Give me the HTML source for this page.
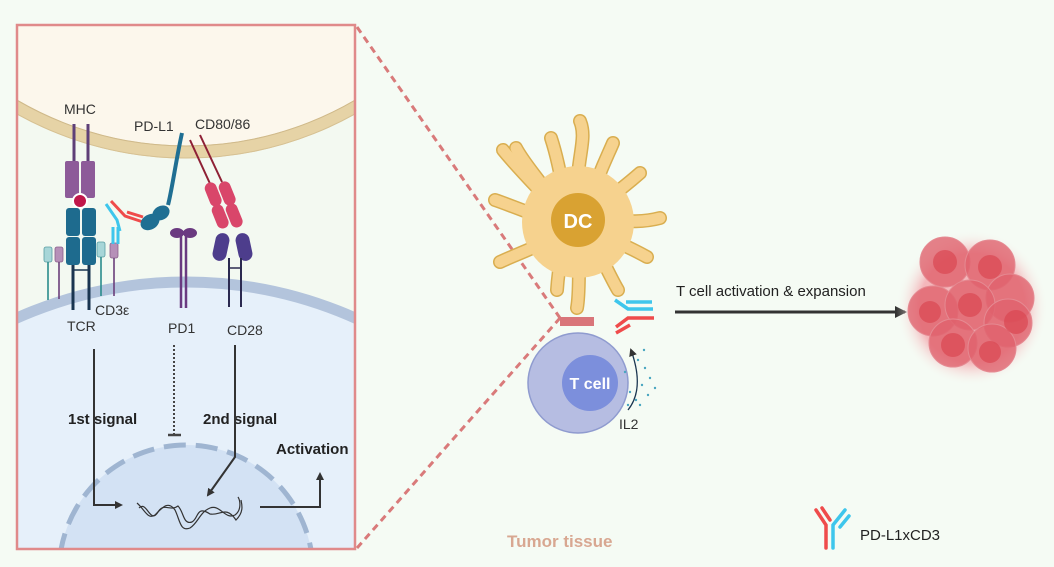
<!DOCTYPE html>
<html><head><meta charset="utf-8"><style>
html,body{margin:0;padding:0;background:#f5fbf4;width:1054px;height:567px;overflow:hidden;}
svg{display:block;font-family:"Liberation Sans",sans-serif;}
</style></head><body>
<svg width="1054" height="567" viewBox="0 0 1054 567" xmlns="http://www.w3.org/2000/svg">
<defs>
<clipPath id="pc"><rect x="18" y="26" width="337" height="523"/></clipPath>
<radialGradient id="glow"><stop offset="0.7" stop-color="#f4a6ad" stop-opacity="0.8"/><stop offset="1" stop-color="#f5fbf4" stop-opacity="0"/></radialGradient>
<marker id="ah" markerWidth="8" markerHeight="8" refX="6" refY="4" orient="auto" markerUnits="userSpaceOnUse"><path d="M0,0 L8,4 L0,8z" fill="#333"/></marker>
<marker id="ah2" markerWidth="12" markerHeight="12" refX="10" refY="6" orient="auto" markerUnits="userSpaceOnUse"><path d="M0,0 L12,6 L0,12z" fill="#333"/></marker>
</defs>
<rect width="1054" height="567" fill="#f5fbf4"/>

<line x1="357" y1="27" x2="560" y2="318" stroke="#d97a7a" stroke-width="3" stroke-dasharray="7,5"/>
<line x1="357" y1="548" x2="560" y2="318" stroke="#d97a7a" stroke-width="3" stroke-dasharray="7,5"/>

<g clip-path="url(#pc)">
<rect x="18" y="26" width="337" height="523" fill="#f3f9f1"/>
<circle cx="186" cy="-188" r="340" fill="#fcf7ec" stroke="#e6d3a6" stroke-width="13"/>
<circle cx="186" cy="-188" r="334" fill="none" stroke="#cfb98a" stroke-width="1"/>
<circle cx="186" cy="-188" r="346" fill="none" stroke="#d6c193" stroke-width="1"/>
<circle cx="186" cy="697" r="415" fill="#e6f0fa" stroke="#b3c4dc" stroke-width="11"/>
<circle cx="186" cy="572" r="127" fill="#d3e2f4" stroke="#9fb5d1" stroke-width="5" stroke-dasharray="22,10"/>
</g>
<rect x="17" y="25" width="338" height="524" fill="none" stroke="#e08a8a" stroke-width="2.5"/>

<!-- MHC -->
<line x1="74" y1="124" x2="74" y2="162" stroke="#5e3f78" stroke-width="3"/>
<line x1="88" y1="124" x2="88" y2="162" stroke="#5e3f78" stroke-width="3"/>
<rect x="65" y="161" width="14" height="37" rx="2" fill="#8d5b99"/>
<rect x="81" y="161" width="14" height="37" rx="2" fill="#8d5b99"/>
<circle cx="80" cy="201" r="7" fill="#c0174a" stroke="#fff" stroke-width="2"/>
<!-- TCR -->
<rect x="66" y="208" width="14" height="28" rx="3" fill="#1e6b8e"/>
<rect x="82" y="208" width="14" height="28" rx="3" fill="#1e6b8e"/>
<rect x="66" y="237" width="14" height="28" rx="3" fill="#1e6b8e"/>
<rect x="82" y="237" width="14" height="28" rx="3" fill="#1e6b8e"/>
<line x1="73" y1="265" x2="73" y2="310" stroke="#1a3550" stroke-width="3"/>
<line x1="89" y1="265" x2="89" y2="310" stroke="#1a3550" stroke-width="3"/>
<line x1="73" y1="270" x2="89" y2="270" stroke="#1a3550" stroke-width="1.5"/>
<!-- CD3 small -->
<rect x="44" y="247" width="8" height="15" rx="2" fill="#a7d6d8" stroke="#5a9ea3" stroke-width="0.8"/>
<line x1="48" y1="262" x2="48" y2="300" stroke="#2a8c8c" stroke-width="1.6"/>
<rect x="55" y="247" width="8" height="15" rx="2" fill="#b690b8" stroke="#8a5f8c" stroke-width="0.8"/>
<line x1="59" y1="262" x2="59" y2="299" stroke="#6b3f7a" stroke-width="1.6"/>
<rect x="97" y="242" width="8" height="15" rx="2" fill="#a7d6d8" stroke="#5a9ea3" stroke-width="0.8"/>
<line x1="101" y1="257" x2="101" y2="296" stroke="#2a8c8c" stroke-width="1.6"/>
<rect x="110" y="243" width="8" height="15" rx="2" fill="#b690b8" stroke="#8a5f8c" stroke-width="0.8"/>
<line x1="114" y1="258" x2="114" y2="296" stroke="#6b3f7a" stroke-width="1.6"/>
<!-- antibody in panel -->
<path d="M113,227 L113,244 M118,227 L118,244" stroke="#3ec6ec" stroke-width="3"/>
<path d="M106,204 L117,220 L120,231" stroke="#3ec6ec" stroke-width="3" fill="none"/>
<path d="M111,201 L125,216 L143,222" stroke="#ef4b4b" stroke-width="3" fill="none"/>
<path d="M127,212 L143,217" stroke="#ef4b4b" stroke-width="3"/>
<!-- PD-L1 -->
<path d="M182,133 C176,160 172,190 168,205" stroke="#1f6f93" stroke-width="4" fill="none"/>
<ellipse cx="161" cy="213" rx="9" ry="7" fill="#1f6f93" transform="rotate(-30 161 213)"/>
<ellipse cx="150" cy="222" rx="10" ry="7.5" fill="#1f6f93" transform="rotate(-30 150 222)"/>
<!-- CD80/86 -->
<line x1="190" y1="140" x2="212" y2="188" stroke="#8e2035" stroke-width="2"/>
<line x1="200" y1="135" x2="222" y2="182" stroke="#8e2035" stroke-width="2"/>
<rect x="207" y="182" width="12" height="25" rx="6" fill="#d9466a" transform="rotate(-22 213 194)"/>
<rect x="221" y="181" width="12" height="25" rx="6" fill="#d9466a" transform="rotate(-22 227 193)"/>
<rect x="214" y="204" width="12" height="25" rx="6" fill="#d9466a" transform="rotate(-22 220 216)"/>
<rect x="228" y="203" width="12" height="25" rx="6" fill="#d9466a" transform="rotate(-22 234 215)"/>
<!-- PD1 -->
<line x1="181" y1="235" x2="181" y2="308" stroke="#6a3a80" stroke-width="2.5"/>
<line x1="186" y1="235" x2="186" y2="308" stroke="#6a3a80" stroke-width="2.5"/>
<ellipse cx="177" cy="233" rx="7" ry="5" fill="#6a3a80"/>
<ellipse cx="190" cy="233" rx="7" ry="5" fill="#6a3a80"/>
<!-- CD28 -->
<rect x="214" y="233" width="14" height="28" rx="7" fill="#4d3d8c" transform="rotate(12 221 247)"/>
<rect x="237" y="233" width="14" height="28" rx="7" fill="#4d3d8c" transform="rotate(-12 244 247)"/>
<line x1="229" y1="258" x2="229" y2="307" stroke="#2b2a50" stroke-width="2"/>
<line x1="241" y1="258" x2="241" y2="307" stroke="#2b2a50" stroke-width="2"/>
<line x1="229" y1="268" x2="241" y2="268" stroke="#2b2a50" stroke-width="1.5"/>

<g font-size="14" fill="#333">
<text x="64" y="114">MHC</text>
<text x="134" y="131">PD-L1</text>
<text x="195" y="129">CD80/86</text>
<text x="95" y="315">CD3ε</text>
<text x="67" y="331">TCR</text>
<text x="168" y="333">PD1</text>
<text x="227" y="335">CD28</text>
</g>
<g font-size="15" fill="#222" font-weight="bold">
<text x="68" y="424">1st signal</text>
<text x="203" y="424">2nd signal</text>
<text x="276" y="454">Activation</text>
</g>
<path d="M94,349 L94,505 L121,505" stroke="#333" stroke-width="2" fill="none" marker-end="url(#ah)"/>
<line x1="174" y1="345" x2="174" y2="434" stroke="#444" stroke-width="2" stroke-dasharray="2,2"/>
<line x1="168" y1="435" x2="181" y2="435" stroke="#444" stroke-width="2.5"/>
<path d="M235,345 L235,457 L208,495" stroke="#333" stroke-width="2" fill="none" marker-end="url(#ah)"/>
<path d="M260,507 L320,507 L320,474" stroke="#333" stroke-width="2" fill="none" marker-end="url(#ah)"/>
<g stroke="#333" stroke-width="1.2" fill="none">
<path d="M137,503 C145,510 148,520 155,515 C162,508 168,500 175,510 C180,520 180,532 190,528 C198,523 200,512 210,508 C220,504 225,520 235,515 C242,510 240,500 238,497"/>
<path d="M139,508 C147,500 150,525 158,512 C164,502 170,512 178,506 C184,512 183,525 192,522 C199,518 196,505 210,514 C220,516 226,505 236,520 C244,512 242,505 241,500"/>
</g>

<!-- DC -->
<g stroke-linecap="round" fill="none">
<g stroke="#d9ae50" stroke-width="14">
<path d="M578,200 C575,160 588,140 580,121"/>
<path d="M560,210 C540,180 525,165 516,148"/>
<path d="M565,200 C560,170 555,150 551,138"/>
<path d="M590,200 C600,170 608,155 613,143"/>
<path d="M600,205 C620,190 632,180 640,173"/>
<path d="M600,220 C630,222 645,222 660,218"/>
<path d="M600,235 C625,245 638,252 647,257"/>
<path d="M595,245 C605,265 612,280 618,290"/>
<path d="M580,245 C578,270 580,292 577,308"/>
<path d="M565,240 C560,260 558,275 557,290"/>
<path d="M560,235 C530,250 515,255 500,262"/>
<path d="M556,222 C525,212 510,205 495,200"/>
<path d="M556,208 C530,180 515,165 503,150"/>
</g>
<g stroke="#f6d28e" stroke-width="11">
<path d="M578,200 C575,160 588,140 580,121"/>
<path d="M560,210 C540,180 525,165 516,148"/>
<path d="M565,200 C560,170 555,150 551,138"/>
<path d="M590,200 C600,170 608,155 613,143"/>
<path d="M600,205 C620,190 632,180 640,173"/>
<path d="M600,220 C630,222 645,222 660,218"/>
<path d="M600,235 C625,245 638,252 647,257"/>
<path d="M595,245 C605,265 612,280 618,290"/>
<path d="M580,245 C578,270 580,292 577,308"/>
<path d="M565,240 C560,260 558,275 557,290"/>
<path d="M560,235 C530,250 515,255 500,262"/>
<path d="M556,222 C525,212 510,205 495,200"/>
<path d="M556,208 C530,180 515,165 503,150"/>
</g>
</g>
<circle cx="578" cy="222" r="56" fill="#f6d28e"/>
<circle cx="578" cy="220" r="27" fill="#d9a232"/>
<text x="578" y="228" font-size="20" font-weight="bold" fill="#fff" text-anchor="middle">DC</text>

<!-- T cell -->
<rect x="560" y="317" width="34" height="9" fill="#d9757a"/>
<circle cx="578" cy="383" r="50" fill="#b6bde2" stroke="#8f9bcf" stroke-width="1.5"/>
<circle cx="590" cy="383" r="28" fill="#7c8fdc"/>
<text x="590" y="389" font-size="16" font-weight="bold" fill="#fff" text-anchor="middle">T cell</text>
<path d="M628,410 C640,395 640,375 631,350" stroke="#1a3550" stroke-width="1.3" fill="none" marker-end="url(#ah)"/>
<g fill="#49a6c0">
<circle cx="638" cy="360" r="1.2"/><circle cx="645" cy="368" r="1.2"/><circle cx="650" cy="378" r="1.2"/><circle cx="642" cy="385" r="1.2"/><circle cx="648" cy="395" r="1.2"/><circle cx="636" cy="400" r="1.2"/><circle cx="630" cy="392" r="1.2"/><circle cx="625" cy="372" r="1.2"/><circle cx="640" cy="405" r="1.2"/><circle cx="628" cy="405" r="1.2"/><circle cx="655" cy="388" r="1.2"/><circle cx="644" cy="350" r="1.2"/>
</g>
<text x="619" y="429" font-size="14" fill="#333">IL2</text>
<path d="M615,300 L628,309 L653,309" stroke="#3ec6ec" stroke-width="3.5" fill="none"/>
<path d="M626,302 L652,302" stroke="#3ec6ec" stroke-width="3.5"/>
<path d="M616,327 L628,318 L654,318" stroke="#ef4b4b" stroke-width="3.5" fill="none"/>
<path d="M616,333 L630,325" stroke="#ef4b4b" stroke-width="3.5"/>

<text x="676" y="296" font-size="15" fill="#222">T cell activation &amp; expansion</text>
<line x1="675" y1="312" x2="905" y2="312" stroke="#333" stroke-width="3" marker-end="url(#ah2)"/>

<!-- tumor -->
<ellipse cx="972" cy="308" rx="76" ry="78" fill="url(#glow)"/>
<g fill="#e0626d" fill-opacity="0.8" stroke="#e58a92" stroke-width="1">
<circle cx="945" cy="262" r="25"/>
<circle cx="990" cy="265" r="25"/>
<circle cx="1010" cy="298" r="24"/>
<circle cx="933" cy="311" r="25"/>
<circle cx="970" cy="305" r="25"/>
<circle cx="1008" cy="323" r="24"/>
<circle cx="953" cy="343" r="24"/>
<circle cx="992" cy="348" r="24"/>
</g>
<g fill="#d9434f" fill-opacity="0.65">
<circle cx="945" cy="262" r="12"/><circle cx="990" cy="267" r="12"/><circle cx="930" cy="312" r="11"/><circle cx="970" cy="305" r="12"/><circle cx="1016" cy="322" r="12"/><circle cx="953" cy="345" r="12"/><circle cx="990" cy="352" r="11"/>
</g>

<text x="507" y="547" font-size="17" font-weight="bold" fill="#d8a791">Tumor tissue</text>
<path d="M816,510 L826,525 L826,548" stroke="#ef4b4b" stroke-width="3.5" fill="none" stroke-linecap="round"/>
<path d="M822,508 L830,520" stroke="#ef4b4b" stroke-width="3.5" stroke-linecap="round"/>
<path d="M845,510 L833,525 L833,548" stroke="#3ec6ec" stroke-width="3.5" fill="none" stroke-linecap="round"/>
<path d="M849,516 L840,527" stroke="#3ec6ec" stroke-width="3.5" stroke-linecap="round"/>
<text x="860" y="540" font-size="15" fill="#222">PD-L1xCD3</text>
</svg>
</body></html>
